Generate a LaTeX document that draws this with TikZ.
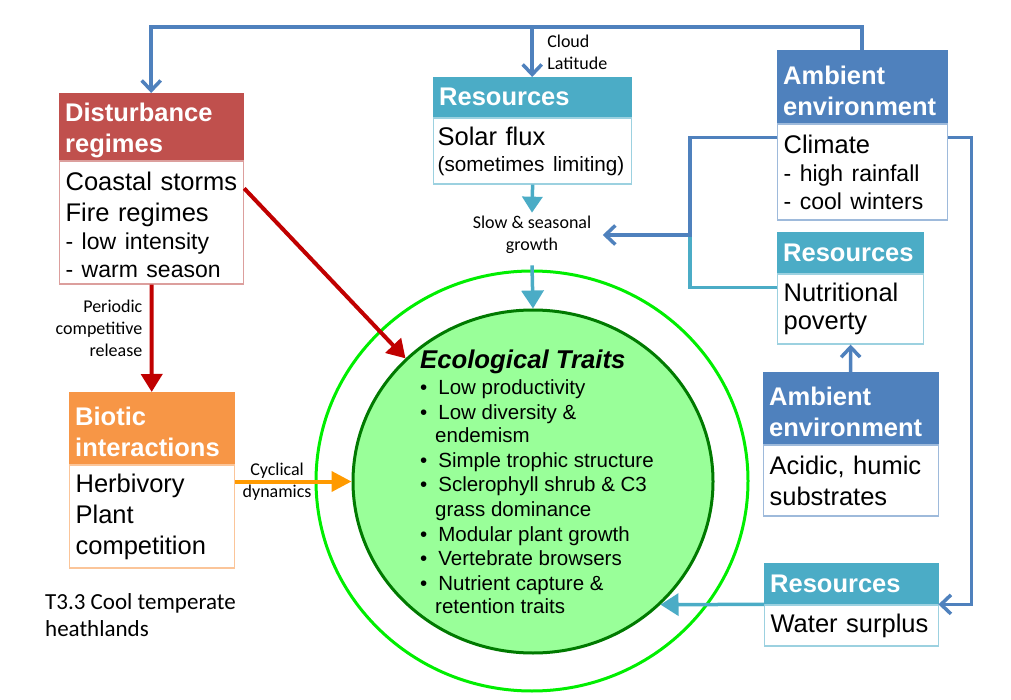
\documentclass[tikz,border=0pt]{standalone}
\usepackage{fontspec}
\setmainfont{Liberation Sans}
\newfontfamily\calibri{Carlito}
\usetikzlibrary{arrows.meta,shapes.geometric}

\definecolor{hdred}{HTML}{C0504D}
\definecolor{hdorange}{HTML}{F79646}
\definecolor{hdblue}{HTML}{4F81BD}
\definecolor{hdaqua}{HTML}{4BACC6}
\definecolor{arrred}{HTML}{C00000}
\definecolor{arrorange}{HTML}{FF9A00}
\definecolor{ringgreen}{HTML}{00EE00}
\definecolor{traitfill}{HTML}{99FF99}
\definecolor{traitline}{HTML}{007A00}

\newcommand{\boxtxt}{\fontsize{25.5}{31}\selectfont}
\newcommand{\subtxt}{\fontsize{23}{28}\selectfont}
\newcommand{\lbltxt}{\calibri\fontsize{18}{22}\selectfont}
\newcommand{\hdstrut}{\rule{0pt}{26pt}}

\begin{document}
\begin{tikzpicture}[x=1pt,y=-1pt,
  head/.style={draw=#1, fill=#1, text=white, anchor=north west, align=left,
    inner xsep=6pt, inner ysep=0pt, font=\bfseries\boxtxt},
  body/.style={draw=#1!55, fill=white, line width=1.2pt, anchor=north west,
    align=left, inner xsep=6pt, inner ysep=0pt, font=\boxtxt},
  bluearr/.style={draw=hdblue, line width=3.5pt, -{Straight Barb[length=10pt,width=19pt]}},
  aqualine/.style={draw=hdaqua, line width=3.5pt},
  aquaarr/.style={draw=hdaqua, fill=hdaqua, line width=3.5pt, -{Triangle[length=18pt,width=22pt]}},
  redarr/.style={draw=arrred, fill=arrred, line width=4pt, -{Triangle[length=18pt,width=21pt]}},
  orangearr/.style={draw=arrorange, fill=arrorange, line width=4pt, -{Triangle[length=20pt,width=20pt]}}]
\useasboundingbox (0,0) rectangle (1011,700);

% central traits
\node[ellipse, draw=ringgreen, line width=3pt, minimum width=432pt, minimum height=420pt] (ring) at (532,481) {};
\node[ellipse, draw=traitline, fill=traitfill, line width=3pt, minimum width=360pt, minimum height=343pt] (traits) at (533,481.5) {};
\node[anchor=north west, align=left, inner sep=0pt, font=\fontsize{20.5}{24.6}\selectfont] (traitsTxt) at (420,350)
  {{\bfseries\itshape\fontsize{25.7}{30}\selectfont Ecological Traits}\\[1.5pt]
   \textbullet\hspace{11pt}Low productivity\\
   \textbullet\hspace{11pt}Low diversity \&\\[-1.5pt]
   \hspace*{15pt}endemism\\
   \textbullet\hspace{11pt}Simple trophic structure\\
   \textbullet\hspace{11pt}Sclerophyll shrub \& C3\\
   \hspace*{15pt}grass dominance\\
   \textbullet\hspace{11pt}Modular plant growth\\
   \textbullet\hspace{11pt}Vertebrate browsers\\
   \textbullet\hspace{11pt}Nutrient capture \&\\[-1.5pt]
   \hspace*{15pt}retention traits};

% boxes
\node[head=hdred, text width=172pt, minimum height=67pt] (distHead) at (59,93) {\hdstrut Disturbance\\regimes};
\node[body=hdred, text width=172pt, minimum height=123pt] (distBody) at (distHead.south west)
  {\rule{0pt}{24pt}Coastal storms\\Fire regimes\\[-3pt]{\subtxt - low intensity}\\[-3pt]{\subtxt - warm season}};

\node[head=hdorange, text width=153pt, minimum height=72pt] (bioHead) at (69,392) {\hdstrut Biotic\\interactions};
\node[body=hdorange, text width=153pt, minimum height=103pt] (bioBody) at (bioHead.south west)
  {Herbivory\\Plant\\competition};

\node[head=hdaqua, text width=186pt, minimum height=40pt] (solarHead) at (433,77) {Resources};
\node[body=hdaqua, text width=190pt, inner xsep=4pt, minimum height=66pt] (solarBody) at (solarHead.south west)
  {Solar flux\\[-5pt]{\fontsize{20.7}{25}\selectfont\mbox{(sometimes limiting)}}};

\node[head=hdblue, text width=158pt, minimum height=73pt] (climHead) at (777,50) {\hdstrut Ambient\\environment};
\node[body=hdblue, text width=158pt, minimum height=96pt] (climBody) at (climHead.south west)
  {Climate\\[-3pt]{\subtxt - high rainfall}\\[-3pt]{\subtxt - cool winters}};

\node[head=hdaqua, text width=134pt, minimum height=41pt] (nutHead) at (777,232) {Resources};
\node[body=hdaqua, text width=134pt, minimum height=70pt] (nutBody) at (nutHead.south west)
  {Nutritional\\[-3pt]poverty};

\node[head=hdblue, text width=163pt, minimum height=72pt] (acidHead) at (763,372) {\hdstrut Ambient\\environment};
\node[body=hdblue, text width=163pt, minimum height=71pt] (acidBody) at (acidHead.south west)
  {Acidic, humic\\substrates};

\node[head=hdaqua, text width=162pt, minimum height=41pt] (watHead) at (764,563) {Resources};
\node[body=hdaqua, text width=162pt, minimum height=41pt] (watBody) at (watHead.south west)
  {Water surplus};

\node[font=\lbltxt, align=center] (growth) at (532,235) {Slow \& seasonal\\growth};
\node[anchor=north west, align=left, inner sep=0pt, font=\calibri\fontsize{23}{27}\selectfont] (caption) at (45,593)
  {T3.3 Cool temperate\\heathlands};

\coordinate (topY) at (0,27);
\coordinate (jn) at (690,235);

% connectors
\draw[bluearr] (climHead.north) |- (topY -| distHead.north) -- (distHead.north);
\draw[bluearr] (solarHead.north |- topY) -- node[anchor=west, xshift=10pt, font=\lbltxt, align=left] {Cloud\\Latitude} (solarHead.north);
\draw[aquaarr, -{Triangle[length=16pt,width=20pt]}] (solarBody.south) -- (growth.north);
\draw[aquaarr] ([yshift=-8pt]growth.south) -- (traits.north);
\draw[aqualine] ([yshift=-14pt]nutBody.north west) -| (jn);
\draw[bluearr] ([yshift=-14pt]climBody.north west) -| (jn) -- ([xshift=8pt]growth.east);
\draw[bluearr] ([yshift=-14pt]climBody.north east) -| ([xshift=33pt]watHead.south east) -- (watHead.south east);
\draw[bluearr] (acidHead.north) -- (nutBody.south);
\draw[aquaarr] (watHead.south west) -- (traits.-44);
\draw[redarr] (distBody.south) -- node[pos=0.41, left=4pt, font=\lbltxt, align=right] {Periodic\\competitive\\release} (bioHead.north);
\draw[redarr] ([yshift=-28pt]distBody.north east) -- (traits.136);
\draw[orangearr] (bioBody.east |- traits.west) -- node[pos=0.36, font=\lbltxt, align=center] {Cyclical\\dynamics} (traits.west);
\end{tikzpicture}
\end{document}
